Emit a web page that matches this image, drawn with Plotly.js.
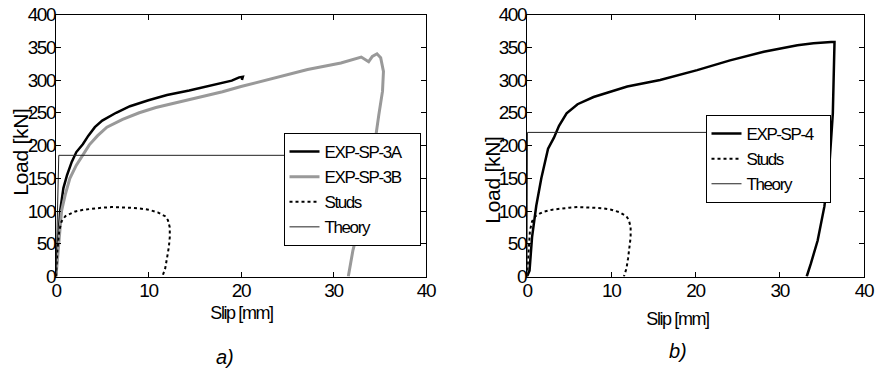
<!DOCTYPE html>
<html>
<head>
<meta charset="utf-8">
<script src="https://cdn.plot.ly/plotly-3.0.1.min.js"></script>
<style>
html,body{margin:0;padding:0;background:#fff}
#chart{width:878px;height:369px}
#chart text{letter-spacing:-1.4px}
#chart g.annotation[data-index="0"] text,
#chart g.annotation[data-index="1"] text{letter-spacing:-0.3px}
#chart g.annotation[data-index="4"] text,
#chart g.annotation[data-index="5"] text{letter-spacing:0}
</style>
</head>
<body>
<div id="chart"></div>
<script>
// ---- Data ----
// Plot a)
const sp3aSlip = [0, 0.2, 0.45, 0.8, 1.2, 1.7, 2.2, 2.9, 3.5, 4.2, 5, 6.5, 8, 10, 12, 14.4, 16, 18, 19, 19.8, 20.2, 20.1];
const sp3aLoad = [0, 50, 100, 135, 155, 175, 190, 202, 215, 228, 238, 250, 260, 269, 277, 284, 289, 296, 299, 304, 305, 300];

const sp3bSlip = [0, 0.3, 0.6, 1.0, 1.5, 2.2, 3.0, 3.6, 4.5, 5.5, 7.2, 9, 10.8, 14.4, 18, 20, 23.6, 27.2, 30.8, 33, 33.8, 34.2, 34.7, 35.1, 35.4, 35.3, 34.9, 34.6, 34.2, 33.6, 32.9, 32.1, 31.6];
const sp3bLoad = [0, 50, 100, 125, 150, 170, 188, 201, 215, 228, 240, 250, 258, 270, 282, 290, 303, 316, 326, 335, 328, 336, 340, 334, 313, 283, 247, 217, 187, 136, 85, 40, 0];

const studsSlip = [0, 0.15, 0.35, 0.6, 1, 1.5, 2, 3, 4, 5, 6, 7, 8, 9, 10, 11, 11.8, 12.1, 12.3, 12.3, 12.2, 12.0, 11.8, 11.5];
const studsLoad = [0, 40, 70, 84, 92, 96, 99, 102, 104, 105, 106, 106, 105, 104, 102, 98, 92, 86, 75, 60, 45, 28, 12, 0];

const theoryASlip = [0, 0.3, 35];
const theoryALoad = [0, 185, 185];

// Plot b)
const sp4Slip = [0, 0.3, 0.6, 1.1, 1.7, 2.5, 3.2, 3.8, 4.7, 6, 7.9, 10, 11.9, 15.8, 20.2, 24.1, 28.1, 32.1, 34, 36.1, 36.5, 36.3, 35.9, 35.3, 34.5, 33.7, 33.2];
const sp4Load = [0, 9, 60, 108, 150, 195, 212, 230, 249, 263, 274, 283, 290, 300, 315, 330, 343, 353, 356, 358, 358, 249, 172, 107, 55, 20, 0];

const theoryBSlip = [0, 0.05, 33];
const theoryBLoad = [0, 220, 220];

const xTicks = [0, 10, 20, 30, 40];
const yTicks = [0, 50, 100, 150, 200, 250, 300, 350, 400];

// ---- Styling ----
const FONT = '"Liberation Sans", Arial, sans-serif';
const traces = [
  {x: sp3aSlip, y: sp3aLoad, name: 'EXP-SP-3A', mode: 'lines', line: {color: '#000', width: 2.5}, xaxis: 'x', yaxis: 'y', legend: 'legend'},
  {x: sp3bSlip, y: sp3bLoad, name: 'EXP-SP-3B', mode: 'lines', line: {color: '#999', width: 3}, xaxis: 'x', yaxis: 'y', legend: 'legend'},
  {x: studsSlip, y: studsLoad, name: 'Studs', mode: 'lines', line: {color: '#000', width: 2, dash: 'dot'}, xaxis: 'x', yaxis: 'y', legend: 'legend'},
  {x: theoryASlip, y: theoryALoad, name: 'Theory', mode: 'lines', line: {color: '#222', width: 1}, xaxis: 'x', yaxis: 'y', legend: 'legend'},
  {x: sp4Slip, y: sp4Load, name: 'EXP-SP-4', mode: 'lines', line: {color: '#000', width: 2.5}, xaxis: 'x2', yaxis: 'y2', legend: 'legend2'},
  {x: studsSlip, y: studsLoad, name: 'Studs', mode: 'lines', line: {color: '#000', width: 2, dash: 'dot'}, xaxis: 'x2', yaxis: 'y2', legend: 'legend2'},
  {x: theoryBSlip, y: theoryBLoad, name: 'Theory', mode: 'lines', line: {color: '#222', width: 1}, xaxis: 'x2', yaxis: 'y2', legend: 'legend2'}
];

const W = 878, H = 369;
const yDom = [1 - 276.5 / H, 1 - 14.5 / H];
function xAxis(dom, anchor) {
  return {domain: dom, anchor: anchor, range: [0, 40], tickvals: xTicks, ticktext: xTicks.map(String),
    ticks: 'inside', ticklen: 5, tickcolor: '#000', showline: true, linecolor: '#000', linewidth: 1,
    mirror: 'ticks', showgrid: false, zeroline: false, tickfont: {family: FONT, size: 19, color: '#000'},
    ticklabelstandoff: -3};
}
function yAxis(anchor) {
  return {domain: yDom, anchor: anchor, range: [0, 400], tickvals: yTicks, ticktext: yTicks.map(String),
    ticks: 'inside', ticklen: 5, tickcolor: '#000', showline: true, linecolor: '#000', linewidth: 1,
    mirror: 'ticks', showgrid: false, zeroline: false, tickfont: {family: FONT, size: 19, color: '#000'},
    ticklabelstandoff: -4};
}
const legendStyle = {bgcolor: '#fff', bordercolor: '#000', borderwidth: 1, font: {family: FONT, size: 17, color: '#000'},
  xanchor: 'center', yanchor: 'top', tracegroupgap: 0, itemwidth: 30};

function label(text, x, y, size, angle) {
  return {text: text, xref: 'paper', yref: 'paper', x: x / W, y: 1 - y / H, xanchor: 'center', yanchor: 'middle',
    textangle: angle || 0, showarrow: false, font: {family: FONT, size: size, color: '#000'}};
}

const layout = {
  width: W, height: H, margin: {l: 0, r: 0, t: 0, b: 0},
  paper_bgcolor: '#fff', plot_bgcolor: '#fff', showlegend: true,
  xaxis: xAxis([56 / W, 426 / W], 'y'),
  yaxis: yAxis('x'),
  xaxis2: xAxis([527 / W, 864 / W], 'y2'),
  yaxis2: yAxis('x2'),
  legend: Object.assign({x: 352 / W, y: 1 - 133 / H}, legendStyle),
  legend2: Object.assign({x: 768 / W, y: 1 - 115 / H}, legendStyle),
  annotations: [
    label('Load [kN]', 20, 152, 21, -90),
    label('Load [kN]', 492, 180, 21, -90),
    label('Slip [mm]', 241, 313, 18),
    label('Slip [mm]', 677, 319, 18),
    label('<i>a)</i>', 225, 357, 20),
    label('<i>b)</i>', 678, 351, 20)
  ]
};

Plotly.newPlot('chart', traces, layout, {displayModeBar: false, staticPlot: true});
</script>
</body>
</html>
